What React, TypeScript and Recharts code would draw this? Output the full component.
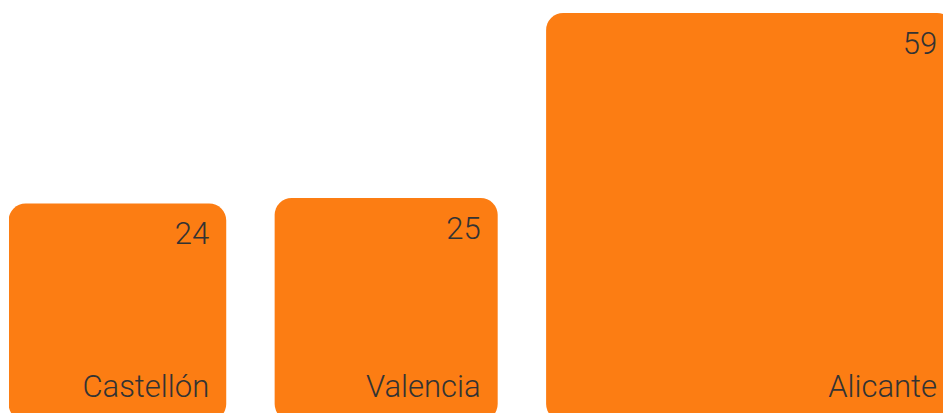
import { Bar, BarChart, XAxis, YAxis } from "recharts";

const provinces = ["Castellón", "Valencia", "Alicante"];
const counts = [24, 25, 59];

// scale floor so the squares keep the reference proportions
const MIN = -16;
const MAX = 59;
const GAP = 8.9;

const CHART_W = 960;
const CHART_H = 430;
const margin = { top: 13, right: 0, bottom: 9, left: 9 };
const plotH = CHART_H - margin.top - margin.bottom;
const plotW = CHART_W - margin.left - margin.right;
const pxPerUnit = plotH / (MAX - MIN);

const data = provinces.map((name, i) => {
  let start = 0;
  for (let j = 0; j < i; j++) start += counts[j] - MIN + GAP;
  return { name, value: counts[i], mid: start + (counts[i] - MIN) / 2 };
});

const Square = (props: any) => {
  const { x, y, width, background, payload } = props;
  const bottom = background ? background.y + background.height : margin.top + plotH;
  const side = bottom - y;
  const left = x + width / 2 - side / 2;
  const right = left + side;
  return (
    <g>
      <rect x={left} y={y} width={side} height={side} rx={17} ry={17} fill="#fc7d13" />
      <text
        x={right - 17}
        y={y + 41}
        textAnchor="end"
        fontSize={31}
        fontWeight={300}
        fill="#333333"
        fontFamily="Roboto, sans-serif"
      >
        {payload.value}
      </text>
      <text
        x={right - 17}
        y={bottom - 24}
        textAnchor="end"
        fontSize={31}
        fontWeight={300}
        fill="#333333"
        fontFamily="Roboto, sans-serif"
      >
        {payload.name}
      </text>
    </g>
  );
};

export default function App() {
  return (
    <div style={{ position: "absolute", left: 0, top: 0, width: 943, height: 413, overflow: "hidden", background: "#fff" }}>
      <BarChart width={CHART_W} height={CHART_H} data={data} margin={margin}>
        <XAxis dataKey="mid" type="number" domain={[0, plotW / pxPerUnit]} allowDataOverflow hide />
        <YAxis type="number" domain={[MIN, MAX]} allowDataOverflow hide />
        <Bar dataKey="value" barSize={10} shape={Square} isAnimationActive={false} />
      </BarChart>
    </div>
  );
}
